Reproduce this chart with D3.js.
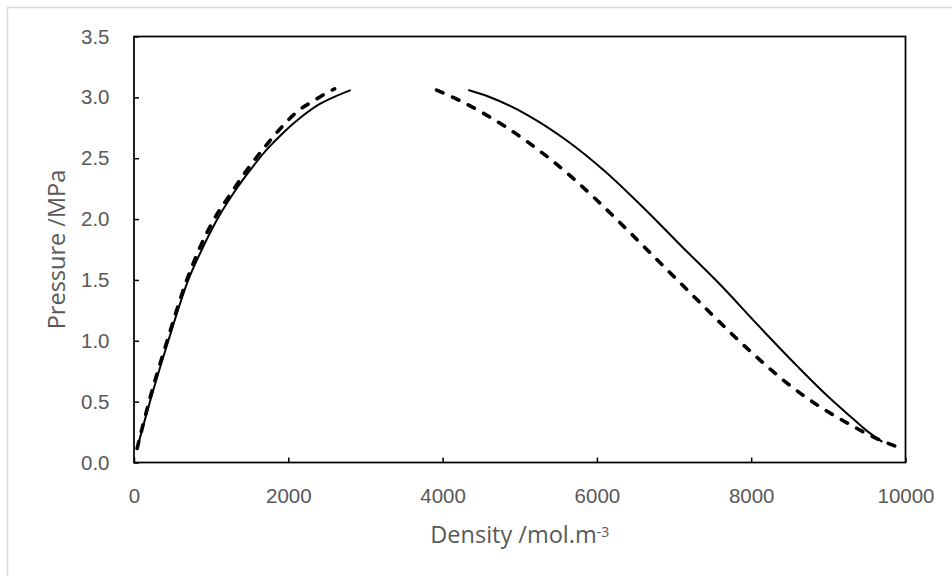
<!DOCTYPE html>
<html>
<head>
<meta charset="utf-8">
<script src="https://cdn.jsdelivr.net/npm/d3@7"></script>
<style>
  body { margin: 0; background: #fff; }
  svg { display: block; font-family: "Open Sans", sans-serif; }
  .tick text { fill: #595959; font-size: 20.5px; }
  .axis-title { fill: #595959; font-size: 23.5px; }
</style>
</head>
<body>
<div id="chart"></div>
<script>
// Tick values
const xTicks = [0, 2000, 4000, 6000, 8000, 10000];
const yTicks = [0, 0.5, 1.0, 1.5, 2.0, 2.5, 3.0, 3.5];

// Solid curve, vapour branch (density mol/m3, pressure MPa)
const solidVapourX = [40, 207, 445, 704, 880, 1072, 1287, 1503, 1720, 1935, 2151, 2367, 2583, 2808];
const solidVapourY = [0.115, 0.5, 1.0, 1.5, 1.75, 1.99, 2.21, 2.40, 2.57, 2.71, 2.83, 2.93, 3.0, 3.06];

// Solid curve, liquid branch
const solidLiquidX = [4333, 4600, 5100, 5600, 6100, 6600, 7100, 7600, 8100, 8600, 9000, 9300, 9500, 9700];
const solidLiquidY = [3.06, 3.005, 2.855, 2.65, 2.395, 2.095, 1.775, 1.46, 1.12, 0.79, 0.54, 0.37, 0.26, 0.17];

// Dashed curve, vapour branch
const dashedVapourX = [40, 195, 430, 685, 850, 1030, 1244, 1460, 1680, 1935, 2109, 2324, 2480, 2600];
const dashedVapourY = [0.115, 0.5, 1.0, 1.5, 1.76, 1.99, 2.2, 2.40, 2.58, 2.77, 2.88, 2.97, 3.03, 3.07];

// Dashed curve, liquid branch
const dashedLiquidX = [3922, 4200, 4500, 4800, 5100, 5400, 5700, 6000, 6300, 6600, 6900, 7200, 7500, 7800, 8100, 8400, 8700, 9000, 9300, 9600, 9950];
const dashedLiquidY = [3.06, 2.98, 2.88, 2.765, 2.635, 2.49, 2.33, 2.155, 1.97, 1.78, 1.59, 1.40, 1.21, 1.025, 0.85, 0.685, 0.54, 0.415, 0.305, 0.205, 0.115];

//Margin, width and height
const margin = { top: 36.5, right: 46.5, bottom: 113.5, left: 134 };
const width = 952 - margin.left - margin.right;
const height = 576 - margin.top - margin.bottom;

//Build point lists from the arrays
function pts(xs, ys) {
  return xs.map(function(x, i) { return { x: x, y: ys[i] }; });
}
const series = [
  { name: "solid-vapour", values: pts(solidVapourX, solidVapourY), dashed: false },
  { name: "solid-liquid", values: pts(solidLiquidX, solidLiquidY), dashed: false },
  { name: "dashed-vapour", values: pts(dashedVapourX, dashedVapourY), dashed: true },
  { name: "dashed-liquid", values: pts(dashedLiquidX, dashedLiquidY), dashed: true }
];

//Scales
const xScale = d3.scaleLinear().domain([0, 10000]).range([0, width]);
const yScale = d3.scaleLinear().domain([0, 3.5]).range([height, 0]);

//SVG
const svg = d3.select("#chart")
  .append("svg")
  .attr("width", 952)
  .attr("height", 576);

//Chart area border (light grey, runs past the picture edge)
svg.append("rect")
  .attr("x", 7.5)
  .attr("y", 7.5)
  .attr("width", 1000)
  .attr("height", 1000)
  .attr("fill", "#fff")
  .attr("stroke", "#d9d9d9")
  .attr("stroke-width", 1.5);

const g = svg.append("g")
  .attr("transform", "translate(" + margin.left + "," + margin.top + ")");

//Axes
const xAxis = d3.axisBottom(xScale)
  .tickValues(xTicks)
  .tickFormat(d3.format("d"))
  .tickSizeInner(-5)
  .tickSizeOuter(0)
  .tickPadding(26);
const yAxis = d3.axisLeft(yScale)
  .tickValues(yTicks)
  .tickFormat(d3.format(".1f"))
  .tickSizeInner(-5)
  .tickSizeOuter(0)
  .tickPadding(24.5);

g.append("g")
  .attr("class", "xAxis")
  .attr("transform", "translate(0," + height + ")")
  .call(xAxis)
  .call(function(s) {
    s.select(".domain").remove();
    s.selectAll(".tick line").attr("stroke", "#000").attr("stroke-width", 1.5);
  });
g.append("g")
  .attr("class", "yAxis")
  .call(yAxis)
  .call(function(s) {
    s.select(".domain").remove();
    s.selectAll(".tick line").attr("stroke", "#000").attr("stroke-width", 1.5);
  });
svg.selectAll(".tick text").attr("font-family", null).attr("font-size", null);

//Plot box
g.append("rect")
  .attr("width", width)
  .attr("height", height)
  .attr("fill", "none")
  .attr("stroke", "#000")
  .attr("stroke-width", 1.75);

//Lines
const line = d3.line()
  .x(function(d) { return xScale(d.x); })
  .y(function(d) { return yScale(d.y); })
  .curve(d3.curveMonotoneX);

g.selectAll(".curve")
  .data(series)
  .enter().append("path")
  .attr("class", "curve")
  .attr("d", function(d) { return line(d.values); })
  .attr("fill", "none")
  .attr("stroke", "#000")
  .attr("stroke-width", function(d) { return d.dashed ? 3.6 : 2; })
  .attr("stroke-linecap", function(d) { return d.dashed ? "round" : "butt"; })
  .attr("stroke-dasharray", function(d) { return d.dashed ? "7,10.5" : null; });

//Axis titles
const xTitle = svg.append("text")
  .attr("class", "axis-title")
  .attr("x", margin.left + width / 2)
  .attr("y", 543)
  .attr("text-anchor", "middle");
xTitle.append("tspan").text("Density /mol.m");
xTitle.append("tspan")
  .attr("dy", "-0.45em")
  .attr("font-size", "14px")
  .text("-3");

svg.append("text")
  .attr("class", "axis-title")
  .attr("transform", "rotate(-90)")
  .attr("x", -(margin.top + height / 2))
  .attr("y", 65)
  .attr("text-anchor", "middle")
  .text("Pressure /MPa");
</script>
</body>
</html>
